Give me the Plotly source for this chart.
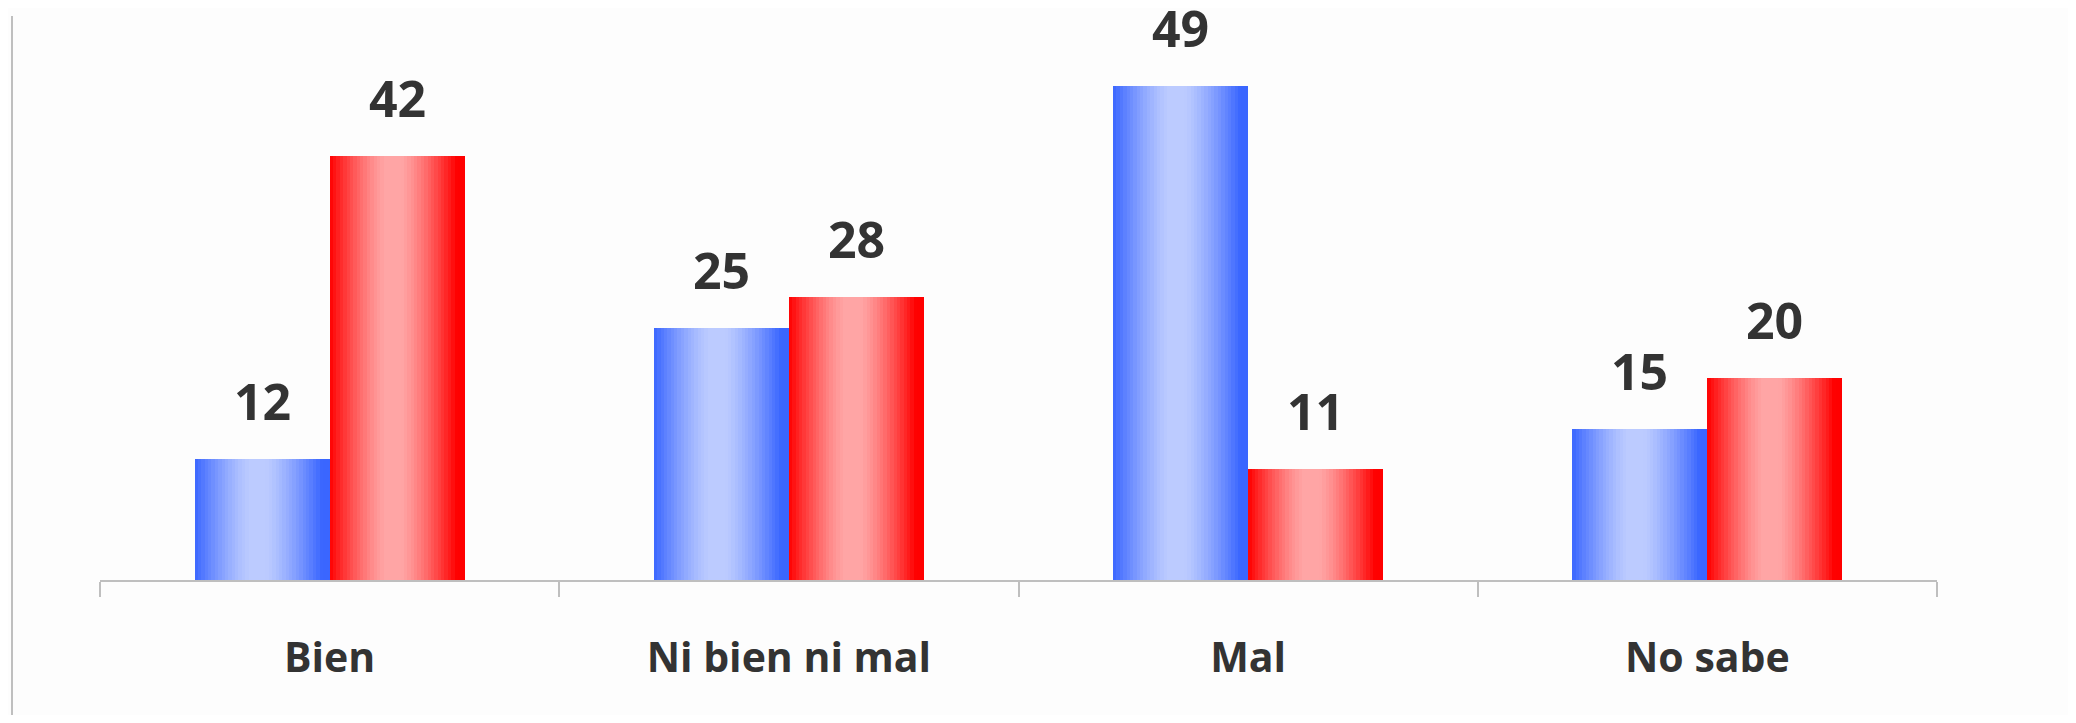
import plotly.graph_objects as go

categories = ["Bien", "Ni bien ni mal", "Mal", "No sabe"]
series_a = [12, 25, 49, 15]   # blue
series_b = [42, 28, 11, 20]   # red

blue_edge = (58, 102, 255)
blue_mid = (188, 203, 255)
red_edge = (255, 0, 0)
red_mid = (255, 165, 165)

GROUP = 0.588
BAR_W = GROUP / 2
N = 40

# page body has an 8px margin: compensate so the plot lands where the reference has it
W, H = 2060, 707
OX, OY = 8, 8

def mix(c1, c2, t):
    return "rgb(%d,%d,%d)" % tuple(round(a + (b - a) * t) for a, b in zip(c1, c2))

def profile(u):
    d = abs(u - 0.47) / 0.47
    d = min(d, 1.0)
    d = max(0.0, (d - 0.12) / 0.88)
    return 1 - d ** 1.3

fig = go.Figure()
for values, edge, mid, base in [(series_a, blue_edge, blue_mid, -BAR_W),
                                 (series_b, red_edge, red_mid, 0.0)]:
    step = BAR_W / N
    for i in range(N):
        u = (i + 0.5) / N
        col = mix(edge, mid, profile(u))
        w = step * 1.6 if i < N - 1 else step
        fig.add_trace(go.Bar(
            x=categories, y=values,
            width=[w] * len(categories), offset=[base + i * step] * len(categories),
            marker=dict(color=col, line=dict(width=0)),
            showlegend=False, hoverinfo="skip",
        ))

for values, base in [(series_a, -BAR_W / 2), (series_b, BAR_W / 2)]:
    for i, v in enumerate(values):
        fig.add_annotation(x=i + base, y=v, text="<b>%d</b>" % v, showarrow=False,
                           yanchor="bottom", yshift=22,
                           font=dict(family="Open Sans", size=50, color="#333333"))

left, top, bottom, right = 100 - OX, 25 - OY, 580 - OY, 1937 - OX
pw, ph = right - left, bottom - top
fig.add_shape(type="line", xref="paper", yref="paper",
              x0=(12 - OX - left) / pw, x1=(12 - OX - left) / pw,
              y0=(bottom - (16 - OY)) / ph, y1=(bottom - (H + 10)) / ph,
              line=dict(color="#BFBFBF", width=2))

fig.update_layout(
    width=W, height=H,
    margin=dict(l=left, r=W - right, t=top, b=H - bottom),
    paper_bgcolor="#FDFDFD", plot_bgcolor="#FDFDFD",
    barmode="overlay", bargap=0,
    xaxis=dict(
        type="category", categoryorder="array", categoryarray=categories,
        tickvals=categories, ticktext=["<b>%s</b>" % c for c in categories],
        range=[-0.5, 3.5], showgrid=False, zeroline=False,
        showline=True, linecolor="#BFBFBF", linewidth=2,
        ticks="outside", ticklen=15, tickcolor="#BFBFBF", tickwidth=2,
        tickson="boundaries",
        tickfont=dict(family="Open Sans", size=41, color="#333333"),
        ticklabelstandoff=41,
    ),
    yaxis=dict(range=[0, 55], visible=False, showgrid=False, zeroline=False),
)

fig.write_html("out.html")
